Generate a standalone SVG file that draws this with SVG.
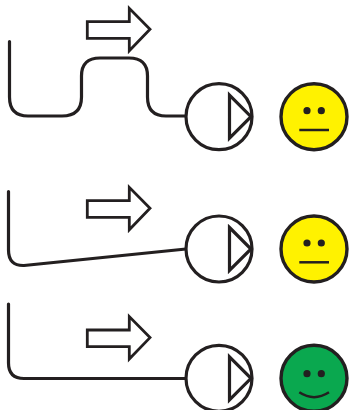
<svg xmlns="http://www.w3.org/2000/svg" width="349" height="410" viewBox="0 0 349 410">
<style>
.l{fill:none;stroke:#231f20;stroke-width:3.200;stroke-linecap:round;stroke-linejoin:round}
.a{fill:#fff;stroke:#231f20;stroke-width:2.800;stroke-linejoin:miter}
.c{fill:#fff;stroke:#231f20;stroke-width:3.200}
.t{fill:none;stroke:#231f20;stroke-width:3.200;stroke-linejoin:miter}
.f{stroke:#231f20;stroke-width:3.400}
.e{fill:#231f20}
.m{fill:none;stroke:#231f20;stroke-width:2.500}
</style>
<defs>
<path id="arrow" class="a" d="M87.3 21.7H129.3V8.3L150 29.3L129.3 50.7V38.3H87.3Z"/>
<g id="pump"><circle class="c" cx="219" cy="0" r="33"/><path class="t" d="M229.5 -21.5L251 0L229.5 21.5Z"/></g>
</defs>
<g id="connectors">
<path class="l" d="M9.5 41.500V97Q9.500 116 28 116H62Q81.500 116 81.500 97V76Q81.500 58 100 58H129Q147.500 58 147.500 76V97Q147.500 116 166 116H186"/>
<path class="l" d="M8.500 191.500V250Q8.500 266 24 265.500L186 249"/>
<path class="l" d="M8.500 304V363Q8.500 378.500 24 378.500H186"/>
</g>
<g id="flow-arrow-1"><use href="#arrow"/></g>
<g id="flow-arrow-2"><use href="#arrow" y="179"/></g>
<g id="flow-arrow-3"><use href="#arrow" y="308.300"/></g>
<g id="pump-1"><use href="#pump" y="116.700"/></g>
<g id="pump-2"><use href="#pump" y="249"/></g>
<g id="pump-3"><use href="#pump" y="378.300"/></g>
<g id="face-1"><circle class="f" cx="314" cy="116.700" r="33" fill="#fff200"/><circle class="e" cx="307" cy="110.700" r="3.600"/><circle class="e" cx="321.300" cy="110.700" r="3.600"/><path class="m" d="M299.300 130H329"/></g>
<g id="face-2"><circle class="f" cx="314" cy="249" r="33" fill="#fff200"/><circle class="e" cx="307" cy="243" r="3.600"/><circle class="e" cx="321.300" cy="243" r="3.600"/><path class="m" d="M299.300 262.300H329"/></g>
<g id="face-3"><circle class="f" cx="314" cy="378.300" r="33" fill="#0aa84f"/><circle class="e" cx="307" cy="373.700" r="3.600"/><circle class="e" cx="321.300" cy="373.700" r="3.600"/><path class="m" d="M299.300 392.300Q314 402 329 392.300"/></g>
</svg>
